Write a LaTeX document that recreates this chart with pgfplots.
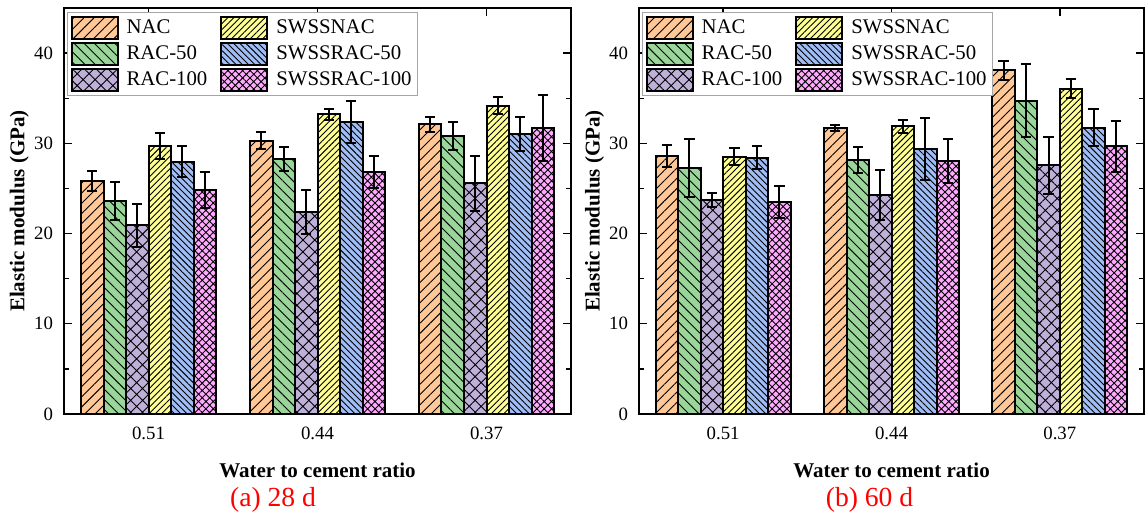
\documentclass[border=0pt]{standalone}
\usepackage{fontspec}
\setmainfont{Liberation Serif}
\usepackage{pgfplots}
\pgfplotsset{compat=1.18}
\usetikzlibrary{patterns,patterns.meta}
\definecolor{cNAC}{HTML}{FFC896}
\definecolor{cR50}{HTML}{9AD69A}
\definecolor{cR100}{HTML}{BEB0D8}
\definecolor{cSN}{HTML}{FFFF96}
\definecolor{cS50}{HTML}{A0BEF5}
\definecolor{cS100}{HTML}{FFAAFF}
\pgfplotsset{
  sNAC/.style={draw=black, line width=1pt, fill=cNAC, postaction={pattern={Lines[angle=45,distance=3.6pt,line width=0.45pt]}}},
  sR50/.style={draw=black, line width=1pt, fill=cR50, postaction={pattern={Lines[angle=-45,distance=3.6pt,line width=0.45pt]}}},
  sR100/.style={draw=black, line width=1pt, fill=cR100, postaction={pattern={Hatch[angle=45,distance=4.2pt,line width=0.45pt]}}},
  sSN/.style={draw=black, line width=1pt, fill=cSN, postaction={pattern={Lines[angle=45,distance=2.2pt,line width=0.45pt]}}},
  sS50/.style={draw=black, line width=1pt, fill=cS50, postaction={pattern={Lines[angle=-45,distance=2.2pt,line width=0.45pt]}}},
  sS100/.style={draw=black, line width=1pt, fill=cS100, postaction={pattern={Hatch[angle=45,distance=2.6pt,line width=0.45pt]}}},
  myaxis/.style={
    scale only axis,
    height=203pt,
    ybar=0pt,
    bar width=11.25pt,
    xmin=-0.5, xmax=2.5,
    ymin=0, ymax=45,
    xtick={0,1,2},
    xticklabels={0.51,0.44,0.37},
    xtick pos=upper, xticklabel pos=lower,
    ytick={0,10,20,30,40},
    minor ytick={5,15,25,35},
    ytick pos=both, yticklabel pos=left,
    tick align=inside,
    major tick length=4pt,
    minor tick length=2.5pt,
    every tick/.style={black, line width=0.7pt},
    axis line style={line width=0.8pt, black},
    /pgf/number format/assume math mode=true,
    tick label style={font=\fontsize{9.4}{10}\selectfont},
    yticklabel style={xshift=-2pt},
    xticklabel style={yshift=-3pt},
    xlabel={Water to cement ratio},
    ylabel={Elastic modulus (GPa)},
    label style={font=\fontsize{10.5}{11}\selectfont\bfseries},
    xlabel style={at={(axis description cs:0.5,-0.138)}, anchor=center},
    ylabel style={at={(axis description cs:-0.088,0.5)}, anchor=center},
    legend columns=3,
    transpose legend,
    legend cell align=left,
    legend image code/.code={\draw[##1] (0pt,-5.6pt) rectangle (23pt,5.6pt);},
    legend style={at={(axis description cs:0,1)}, anchor=north west, xshift=1.5pt, yshift=-2pt,
      draw=gray!70, line width=0.5pt, inner sep=1.5pt,
      font=\fontsize{10.4}{12}\selectfont,
      row sep=0.6pt,
      cells={anchor=west},
      nodes={inner xsep=1.5pt},
      /tikz/every odd column/.append style={column sep=2.5pt},
      /tikz/every even column/.append style={column sep=5pt}},
    error bars/y dir=both,
    error bars/y explicit,
    error bars/error bar style={line width=1pt, black},
    error bars/error mark options={rotate=90, mark size=2.6pt, line width=1pt, black},
  }
}
\begin{document}
\begin{tikzpicture}
\path (0,0) rectangle (572.5pt,257.5pt);
% ---------- (a) 28 d ----------
\begin{axis}[myaxis, width=253.5pt, at={(32pt,50.5pt)}, anchor=south west]
\addplot[sNAC] coordinates {(0,25.8) +- (0,1.1) (1,30.3) +- (0,0.95) (2,32.1) +- (0,0.8)};
\addplot[sR50] coordinates {(0,23.6) +- (0,2.1) (1,28.25) +- (0,1.3) (2,30.85) +- (0,1.55)};
\addplot[sR100] coordinates {(0,20.9) +- (0,2.4) (1,22.4) +- (0,2.45) (2,25.55) +- (0,3.0)};
\addplot[sSN] coordinates {(0,29.7) +- (0,1.45) (1,33.2) +- (0,0.65) (2,34.15) +- (0,0.95)};
\addplot[sS50] coordinates {(0,27.95) +- (0,1.7) (1,32.35) +- (0,2.3) (2,31.05) +- (0,1.9)};
\addplot[sS100] coordinates {(0,24.85) +- (0,2.0) (1,26.85) +- (0,1.8) (2,31.7) +- (0,3.7)};
\legend{NAC,RAC-50,RAC-100,SWSSNAC,SWSSRAC-50,SWSSRAC-100}
\end{axis}
% ---------- (b) 60 d ----------
\begin{axis}[myaxis, width=252.5pt, at={(319.5pt,50.5pt)}, anchor=south west]
\addplot[sNAC] coordinates {(0,28.6) +- (0,1.25) (1,31.7) +- (0,0.3) (2,38.1) +- (0,1.05)};
\addplot[sR50] coordinates {(0,27.25) +- (0,3.2) (1,28.15) +- (0,1.4) (2,34.7) +- (0,4.05)};
\addplot[sR100] coordinates {(0,23.7) +- (0,0.75) (1,24.3) +- (0,2.75) (2,27.55) +- (0,3.15)};
\addplot[sSN] coordinates {(0,28.5) +- (0,0.95) (1,31.9) +- (0,0.7) (2,36.05) +- (0,1.05)};
\addplot[sS50] coordinates {(0,28.4) +- (0,1.25) (1,29.4) +- (0,3.45) (2,31.75) +- (0,2.0)};
\addplot[sS100] coordinates {(0,23.5) +- (0,1.8) (1,28.0) +- (0,2.45) (2,29.65) +- (0,2.8)};
\legend{NAC,RAC-50,RAC-100,SWSSNAC,SWSSRAC-50,SWSSRAC-100}
\end{axis}
\node[text=red, font=\fontsize{13.8}{14}\selectfont] at (136.5pt,7.5pt) {(a) 28 d};
\node[text=red, font=\fontsize{13.8}{14}\selectfont] at (434.75pt,7.5pt) {(b) 60 d};
\end{tikzpicture}
\end{document}
